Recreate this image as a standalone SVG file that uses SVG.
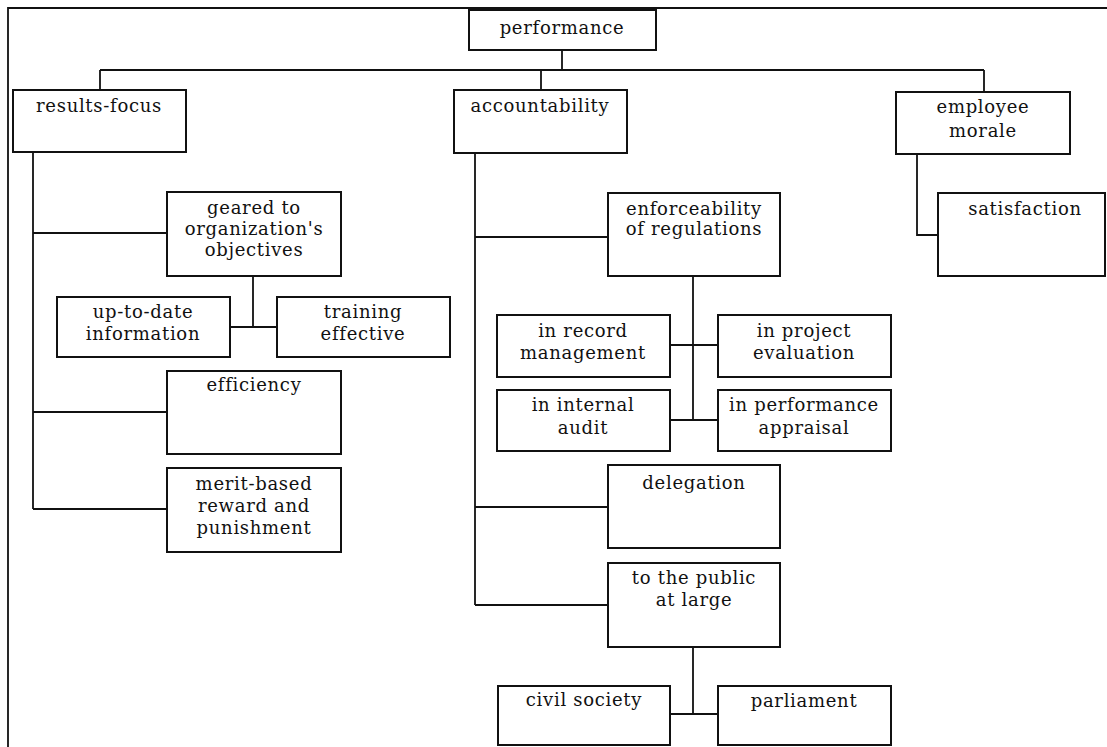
<svg xmlns="http://www.w3.org/2000/svg" width="1107" height="747" viewBox="0 0 1107 747">
<style>
.box{fill:#fff;stroke:#111;stroke-width:2}
.ln{fill:none;stroke:#111;stroke-width:1.8}
text{font-family:"DejaVu Serif","Liberation Serif",serif;font-size:18px;letter-spacing:0.7px;fill:#111;text-anchor:middle}
</style>
<rect width="1107" height="747" fill="#fff"/>
<g id="frame"><path class="ln" d="M8,747 V8 H1107"/></g>
<g id="connectors">
<path class="ln" d="M562,50 V70 M100,70 H984 M100,70 V90 M541,70 V90 M984,70 V92"/>
<path class="ln" d="M33,152 V509 M33,233 H167 M33,412 H167 M33,509 H167"/>
<path class="ln" d="M253,276 V327 M230,327 H277"/>
<path class="ln" d="M475,153 V605 M475,237 H608 M475,507 H608 M475,605 H608"/>
<path class="ln" d="M693,276 V420 M670,345 H718 M670,420 H718"/>
<path class="ln" d="M693,647 V714 M670,714 H718"/>
<path class="ln" d="M917,154 V235 H938"/>
</g>
<g id="performance"><rect class="box" x="469" y="10" width="187" height="40"/><text x="562" y="34">performance</text></g>
<g id="results-focus"><rect class="box" x="13" y="90" width="173" height="62"/><text x="99" y="112">results-focus</text></g>
<g id="accountability"><rect class="box" x="454" y="90" width="173" height="63"/><text x="540" y="112">accountability</text></g>
<g id="employee-morale"><rect class="box" x="896" y="92" width="174" height="62"/><text x="983" y="113">employee</text><text x="983" y="137">morale</text></g>
<g id="geared"><rect class="box" x="167" y="192" width="174" height="84"/><text x="254" y="214">geared to</text><text x="254" y="235">organization's</text><text x="254" y="256">objectives</text></g>
<g id="up-to-date"><rect class="box" x="57" y="297" width="173" height="60"/><text x="143" y="318">up-to-date</text><text x="143" y="340">information</text></g>
<g id="training"><rect class="box" x="277" y="297" width="173" height="60"/><text x="363" y="318">training</text><text x="363" y="340">effective</text></g>
<g id="efficiency"><rect class="box" x="167" y="371" width="174" height="83"/><text x="254" y="391">efficiency</text></g>
<g id="merit"><rect class="box" x="167" y="468" width="174" height="84"/><text x="254" y="490">merit-based</text><text x="254" y="512">reward and</text><text x="254" y="534">punishment</text></g>
<g id="enforceability"><rect class="box" x="608" y="193" width="172" height="83"/><text x="694" y="215">enforceability</text><text x="694" y="235">of regulations</text></g>
<g id="record"><rect class="box" x="497" y="315" width="173" height="62"/><text x="583" y="337">in record</text><text x="583" y="359">management</text></g>
<g id="project"><rect class="box" x="718" y="315" width="173" height="62"/><text x="804" y="337">in project</text><text x="804" y="359">evaluation</text></g>
<g id="audit"><rect class="box" x="497" y="390" width="173" height="61"/><text x="583" y="411">in internal</text><text x="583" y="434">audit</text></g>
<g id="appraisal"><rect class="box" x="718" y="390" width="173" height="61"/><text x="804" y="411">in performance</text><text x="804" y="434">appraisal</text></g>
<g id="delegation"><rect class="box" x="608" y="465" width="172" height="83"/><text x="694" y="489">delegation</text></g>
<g id="public"><rect class="box" x="608" y="563" width="172" height="84"/><text x="694" y="584">to the public</text><text x="694" y="606">at large</text></g>
<g id="civil"><rect class="box" x="498" y="686" width="172" height="59"/><text x="584" y="706">civil society</text></g>
<g id="parliament"><rect class="box" x="718" y="686" width="173" height="59"/><text x="804" y="707">parliament</text></g>
<g id="satisfaction"><rect class="box" x="938" y="193" width="167" height="83"/><text x="1025" y="215">satisfaction</text></g>
</svg>
